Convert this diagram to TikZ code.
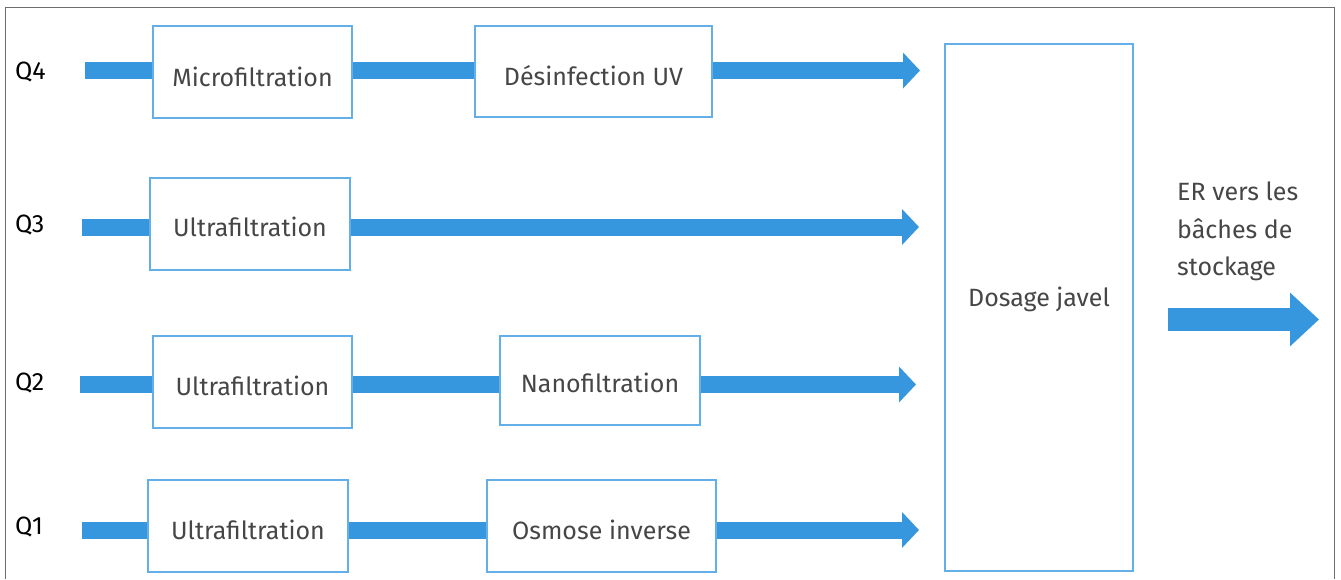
\documentclass[tikz,border=0pt]{standalone}
\usepackage{fontspec}
\setmainfont{Fira Sans}
\usetikzlibrary{arrows.meta}
\definecolor{flowblue}{RGB}{54,150,222}
\definecolor{boxblue}{RGB}{100,175,232}
\definecolor{txtgray}{RGB}{70,70,70}
\definecolor{framegray}{RGB}{110,110,110}
\begin{document}
\begin{tikzpicture}[x=1pt,y=-1pt,
  procbox/.style={draw=boxblue,line width=1.8pt,fill=white,inner sep=0pt},
  boxtext/.style={inner sep=0pt,font=\fontsize{25}{30}\selectfont,text=txtgray},
  flow/.style={draw=flowblue,line width=17pt},
  flowend/.style={flow,-{Triangle[length=17pt,width=35pt]}},
  qlabel/.style={anchor=west,inner sep=0pt,font=\fontsize{25}{30}\selectfont,text=black}]
\useasboundingbox (0,0) rectangle (1341,579);
\fill[white] (0,0) rectangle (1341,579);
\draw[framegray,line width=1pt] (5,579) -- (5,7) -- (1334,7) -- (1334,579);

% start / end coordinates
\coordinate (s4) at (85,70.5);   \coordinate (e4) at (920,70.5);
\coordinate (s3) at (82,227);    \coordinate (e3) at (919,227);
\coordinate (s2) at (80,384.5);  \coordinate (e2) at (916,384.5);
\coordinate (s1) at (82,530);    \coordinate (e1) at (919,530);

% connectors
\draw[flow] (s4) -- (s4 -| 153,0);
\draw[flow] (s4 -| 352,0) -- (s4 -| 475,0);
\draw[flowend] (s4 -| 712,0) -- (e4);
\draw[flow] (s3) -- (s3 -| 150,0);
\draw[flowend] (s3 -| 350,0) -- (e3);
\draw[flow] (s2) -- (s2 -| 153,0);
\draw[flow] (s2 -| 352,0) -- (s2 -| 500,0);
\draw[flowend] (s2 -| 700,0) -- (e2);
\draw[flow] (s1) -- (s1 -| 148,0);
\draw[flow] (s1 -| 348,0) -- (s1 -| 487,0);
\draw[flowend] (s1 -| 716,0) -- (e1);

% boxes
\node[procbox,minimum width=199pt,minimum height=92pt] (mf) at (252.5,72) {};
\node[procbox,minimum width=237pt,minimum height=91pt] (uv) at (593.5,71.5) {};
\node[procbox,minimum width=200pt,minimum height=92pt] (uf3) at (250,224) {};
\node[procbox,minimum width=199pt,minimum height=92pt] (uf2) at (252.5,382) {};
\node[procbox,minimum width=200pt,minimum height=89pt] (nf) at (600,380.5) {};
\node[procbox,minimum width=200pt,minimum height=92pt] (uf1) at (248,526) {};
\node[procbox,minimum width=229pt,minimum height=92pt] (oi) at (601.5,526) {};
\node[procbox,minimum width=188pt,minimum height=527pt] (dj) at (1039,307.5) {};

% box texts
\node[boxtext] (mft) at ([yshift=-5pt]mf.center) {Microfiltration};
\node[boxtext] (uvt) at ([yshift=-4pt]uv.center) {Désinfection UV};
\node[boxtext] (uf3t) at ([yshift=-3pt]uf3.center) {Ultrafiltration};
\node[boxtext] (uf2t) at ([yshift=-4pt]uf2.center) {Ultrafiltration};
\node[boxtext] (nft) at ([yshift=-2.5pt]nf.center) {Nanofiltration};
\node[boxtext] (uf1t) at ([yshift=-4pt]uf1.center) {Ultrafiltration};
\node[boxtext] (oit) at ([yshift=-4pt]oi.center) {Osmose inverse};
\node[boxtext] (djt) at (1039,299) {Dosage javel};

\node[qlabel] (q4) at (15,72) {Q4};
\node[qlabel] (q3) at (15,225) {Q3};
\node[qlabel] (q2) at (15,383) {Q2};
\node[qlabel] (q1) at (15,527) {Q1};

\node[anchor=north west,inner sep=0pt,align=left,text=txtgray,
  font=\fontsize{25}{37.5}\selectfont] (er) at (1177,182) {ER vers les\\bâches de\\stockage};

\coordinate (os) at (1168,319.5);
\coordinate (oe) at (1319,319.5);
\draw[flowblue,line width=23pt,-{Triangle[length=29pt,width=52pt]}] (os) -- (oe);
\end{tikzpicture}
\end{document}
